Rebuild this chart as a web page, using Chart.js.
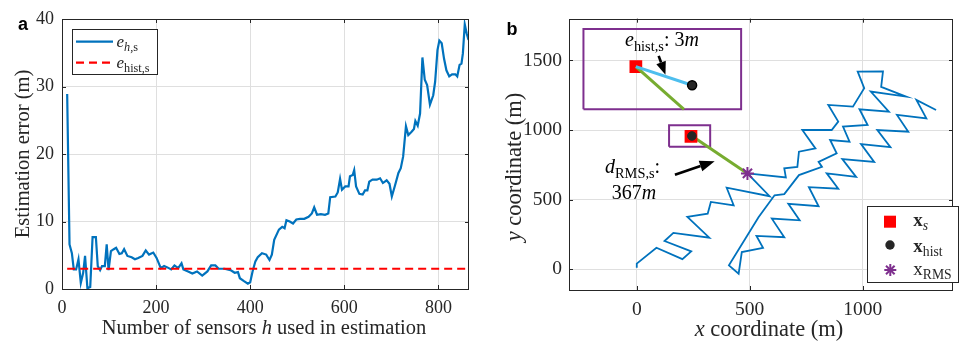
<!DOCTYPE html>
<html lang="en">
<head>
<meta charset="UTF-8">
<title>Estimation error and sensor positions</title>
<script src="https://cdn.jsdelivr.net/npm/chart.js"></script>
<style>
  body { margin: 0; background: #fff; }
  .fig { position: relative; width: 962px; height: 342px; overflow: hidden;
         font-family: 'Liberation Serif', 'DejaVu Serif', serif; color: #262626; }
  .fig canvas { position: absolute; top: 0; }
  #chartA { left: 0; }
  #chartB { left: 480px; }
  #over { position: absolute; left: 0; top: 0; }
  .t { position: absolute; white-space: nowrap; line-height: 1; }
  .t sub { font-size: 0.72em; vertical-align: -0.32em; line-height: 0; }
  .tag { font-family: 'Liberation Sans', Arial, sans-serif; font-weight: bold; font-size: 18px; color: #000; }
  .xt { transform: translateX(-50%); }
  .yt { transform: translate(-50%, -50%) rotate(-90deg); }
  .ta { font-size: 20.5px; }
  .tb { font-size: 22.5px; }
  .lg { font-size: 17px; }
  .lgb { font-size: 19px; }
  .ann { font-size: 20px; color: #000; }
</style>
</head>
<body>
<div class="fig">
  <canvas id="chartA" width="480" height="342"></canvas>
  <canvas id="chartB" width="482" height="342"></canvas>

  <svg id="over" width="962" height="342">
    <!-- legend a -->
    <rect x="72.5" y="29.5" width="85" height="45" fill="#fff" stroke="#262626" stroke-width="1"/>
    <line x1="76" y1="41.7" x2="113" y2="41.7" stroke="#0072BD" stroke-width="2.2"/>
    <line x1="76" y1="62.7" x2="113" y2="62.7" stroke="#FF0000" stroke-width="2.2" stroke-dasharray="8 5"/>
    <!-- legend b -->
    <rect x="867.5" y="206.5" width="91" height="76" fill="#fff" stroke="#262626" stroke-width="1"/>
    <rect x="884" y="215.7" width="12" height="12" fill="#FF0000"/>
    <circle cx="890" cy="245" r="4.7" fill="#262626"/>
    <g stroke="#7E2F8E" stroke-width="2">
      <line x1="890.3" y1="264" x2="890.3" y2="276"/>
      <line x1="884.3" y1="270" x2="896.3" y2="270"/>
      <line x1="886" y1="265.7" x2="894.6" y2="274.3"/>
      <line x1="886" y1="274.3" x2="894.6" y2="265.7"/>
    </g>
  </svg>

  <div class="t tag" style="left:18px; top:14.8px;">a</div>
  <div class="t tag" style="left:506.5px; top:19.8px;">b</div>

  <div class="t xt ta" style="left:264px; top:317.1px;">Number of sensors <i>h</i> used in estimation</div>
  <div class="t yt ta" style="left:21.5px; top:154px;">Estimation error (m)</div>
  <div class="t xt tb" style="left:769px; top:317.9px;"><i>x</i> coordinate (m)</div>
  <div class="t yt tb" style="left:514px; top:167px;"><i>y</i> coordinate (m)</div>

  <div class="t lg" style="left:116.5px; top:32.5px;"><i>e</i><sub><i>h</i>,s</sub></div>
  <div class="t lg" style="left:116.5px; top:54.1px;"><i>e</i><sub>hist,s</sub></div>

  <div class="t lgb" style="left:913.3px; top:210.1px;"><b>x</b><sub><i>s</i></sub></div>
  <div class="t lgb" style="left:913.3px; top:235.8px;"><b>x</b><sub>hist</sub></div>
  <div class="t lgb" style="left:913.3px; top:259.1px;">x<sub>RMS</sub></div>

  <div class="t ann" style="left:625px; top:29.3px;"><i>e</i><sub>hist,s</sub>: 3<i>m</i></div>
  <div class="t ann" style="left:605px; top:156.3px;"><i>d</i><sub>RMS,s</sub>:</div>
  <div class="t ann" style="left:611.7px; top:182.3px;">367<i>m</i></div>
</div>

<script>
// ---- panel a: error vs number of sensors
var sensorCounts = [11,16,21,25,30,35,40,45,49,54,
  60,65,72,76,81,85,91,95,99,104,
  110,115,122,127,132,139,148,155,162,171,
  178,185,194,201,210,217,224,232,239,247,
  254,258,268,277,287,298,309,317,326,333,
  345,358,367,374,378,386,395,400,405,411,
  416,425,434,441,446,451,461,468,473,477,
  484,491,498,506,515,524,531,536,542,550,
  559,566,570,581,586,591,595,602,609,612,
  618,621,625,632,639,644,649,653,660,669,
  676,682,690,696,701,708,715,720,725,731,
  736,743,748,751,756,761,766,771,776,782,
  789,793,798,802,807,812,817,823,829,836,
  840,845,849,852,856,860,864];
var errorH = [28.9,6.6,5.3,2.9,2.9,4.4,0.9,2.4,4.9,0.1,
  0.3,7.7,7.7,3.4,2.8,3.4,3.4,6.6,2.8,5.6,
  5.9,6.1,5.2,5.3,5.9,4.9,4.7,4.4,4.6,4.9,
  5.7,5.1,5.4,4.6,3.1,3.4,3.2,2.9,3.5,3.1,
  3.8,2.9,2.6,2.3,2.6,2.0,2.6,3.5,3.5,3.0,
  3.0,2.8,2.4,2.5,1.6,1.2,0.8,1.0,2.6,4.1,
  4.7,5.3,5.1,4.3,5.1,7.3,8.8,9.2,9.0,10.2,
  10.0,9.7,10.3,10.4,10.4,10.7,11.2,12.1,11.0,11.1,
  11.0,11.2,13.6,13.7,14.3,16.3,14.7,15.2,15.2,16.7,
  16.9,17.6,15.2,14.1,14.0,14.6,14.6,15.9,16.2,16.2,
  16.4,15.7,16.1,15.6,13.7,15.4,17.2,17.9,19.6,24.1,
  22.8,23.3,23.7,24.9,24.2,26.0,34.3,31.0,30.2,27.3,
  28.7,30.7,35.4,36.8,36.4,34.1,32.4,31.5,31.8,31.8,
  31.5,33.2,33.4,34.9,39.2,37.9,36.9];
var histError = 3;
var histRange = [11, 865];
var xTicksA = [0, 200, 400, 600, 800];
var yTicksA = [0, 10, 20, 30, 40];

// ---- panel b: sensor track and estimated positions
var trackX = [0,0,87,202,241,123,162,321,224,314,328,429,398,588,
  490,660,653,711,718,791,733,863,892,848,957,1007,978,1090,1082,1192,
  1036,1116,986,1022,913,942,856,885,805,820,718,653,610,539,408,451,
  465,559,530,653,598,721,671,805,762,892,841,971,910,1051,993,1123,1065,1202,1152,1282,1238,1325];
var trackY = [10,40,154,72,128,202,260,226,375,399,483,459,585,524,
  688,659,724,735,844,868,1000,1000,1060,1180,1168,1301,1420,1421,1310,1240,
  1276,1132,1149,1036,1024,916,928,832,771,735,676,539,531,373,27,-33,
  123,153,239,229,363,351,470,452,589,578,688,663,791,771,899,877,1000,988,1108,1084,1216,1144];
var trueX = [240], trueY = [955];
var histX = [244], histY = [957];
var rmsX = [490], rmsY = [688];
// zoomed inset
var insetBoxX = [-236, 462, 462, -236, -236];
var insetBoxY = [1149, 1149, 1726, 1726, 1149];
var smallBoxX = [143, 325, 325, 143, 143];
var smallBoxY = [880, 880, 1034, 1034, 880];
var insetTrue = [-4, 1456];
var insetHist = [245, 1322];
var insetRmsEnd = [209, 1149];
var xTicksB = [0, 500, 1000];
var yTicksB = [0, 500, 1000, 1500];

function pts(xs, ys) {
  return xs.map(function (v, i) { return { x: v, y: ys[i] }; });
}

var serif = "'Liberation Serif', 'DejaVu Serif', serif";
var gridStyle = { color: '#dfdfdf', lineWidth: 1, drawTicks: false };

// box around the axes with inward tick marks
var framePlugin = {
  id: 'frame',
  afterDatasetsDraw: function (chart) {
    var ctx = chart.ctx, a = chart.chartArea, sx = chart.scales.x, sy = chart.scales.y;
    ctx.save();
    ctx.strokeStyle = '#262626';
    ctx.lineWidth = 1;
    ctx.strokeRect(Math.round(a.left) + 0.5, Math.round(a.top) + 0.5,
      Math.round(a.right - a.left) - 1, Math.round(a.bottom - a.top));
    ctx.beginPath();
    sx.ticks.forEach(function (t) {
      var p = Math.round(sx.getPixelForValue(t.value)) + 0.5;
      ctx.moveTo(p, a.bottom); ctx.lineTo(p, a.bottom - 4);
      ctx.moveTo(p, a.top); ctx.lineTo(p, a.top + 4);
    });
    sy.ticks.forEach(function (t) {
      var p = Math.round(sy.getPixelForValue(t.value)) + 0.5;
      ctx.moveTo(a.left, p); ctx.lineTo(a.left + 4, p);
      ctx.moveTo(a.right, p); ctx.lineTo(a.right - 4, p);
    });
    ctx.stroke();
    ctx.restore();
  }
};

function axis(min, max, tickVals, fit, pad, size) {
  return {
    type: 'linear', min: min, max: max,
    afterBuildTicks: function (s) { s.ticks = tickVals.map(function (v) { return { value: v }; }); },
    afterFit: fit,
    grid: gridStyle,
    border: { display: false },
    ticks: { font: { family: serif, size: size }, color: '#262626', padding: pad, maxRotation: 0,
      callback: function (v) { return String(v); } }
  };
}

new Chart(document.getElementById('chartA'), {
  type: 'scatter',
  data: {
    datasets: [
      {
        data: pts(histRange, [histError, histError]),
        showLine: true, borderColor: '#FF0000', borderWidth: 2.2, borderDash: [8, 5],
        pointRadius: 0, order: 0
      },
      {
        data: pts(sensorCounts, errorH),
        showLine: true, borderColor: '#0072BD', borderWidth: 2.2,
        pointRadius: 0, order: 1
      }
    ]
  },
  options: {
    responsive: false, animation: false, events: [],
    layout: { padding: { left: 0, top: 19, right: 11, bottom: 0 } },
    plugins: { legend: { display: false }, tooltip: { enabled: false } },
    scales: {
      x: axis(0, 865, xTicksA, function (s) { s.height = 53; }, 8, 18),
      y: axis(0, 40, yTicksA, function (s) { s.width = 62; }, 8, 18)
    }
  },
  plugins: [framePlugin]
});

// black arrows pointing at the error segments (data units)
var arrowPlugin = {
  id: 'arrows',
  afterDatasetsDraw: function (chart) {
    var ctx = chart.ctx, sx = chart.scales.x, sy = chart.scales.y;
    var arrows = [[97, 1533, 127, 1397, 13, 10], [169, 678, 345, 776, 15, 11]];
    ctx.save();
    ctx.fillStyle = '#000';
    ctx.strokeStyle = '#000';
    ctx.lineWidth = 2.6;
    arrows.forEach(function (ar) {
      var x0 = sx.getPixelForValue(ar[0]), y0 = sy.getPixelForValue(ar[1]);
      var x1 = sx.getPixelForValue(ar[2]), y1 = sy.getPixelForValue(ar[3]);
      var ang = Math.atan2(y1 - y0, x1 - x0), len = ar[4], w = ar[5] / 2;
      var bx = x1 - len * Math.cos(ang), by = y1 - len * Math.sin(ang);
      ctx.beginPath();
      ctx.moveTo(x0, y0); ctx.lineTo(bx, by);
      ctx.stroke();
      ctx.beginPath();
      ctx.moveTo(x1, y1);
      ctx.lineTo(bx + w * Math.sin(ang), by - w * Math.cos(ang));
      ctx.lineTo(bx - w * Math.sin(ang), by + w * Math.cos(ang));
      ctx.closePath();
      ctx.fill();
    });
    ctx.restore();
  }
};

function lineSet(d, color, width, order) {
  return { data: d, showLine: true, borderColor: color, borderWidth: width,
    pointRadius: 0, fill: false, order: order };
}

new Chart(document.getElementById('chartB'), {
  type: 'scatter',
  data: {
    datasets: [
      { data: pts(histX, histY), pointStyle: 'circle', pointRadius: 4.3,
        backgroundColor: '#262626', borderColor: '#262626', borderWidth: 1, order: 0 },
      { data: [{ x: insetHist[0], y: insetHist[1] }], pointStyle: 'circle', pointRadius: 4.5,
        backgroundColor: '#262626', borderColor: '#000', borderWidth: 1.5, order: 0 },
      { data: pts(rmsX, rmsY), pointStyle: 'star', pointRadius: 6.5,
        borderColor: '#7E2F8E', borderWidth: 2, order: 1 },
      lineSet([{ x: insetTrue[0], y: insetTrue[1] }, { x: insetHist[0], y: insetHist[1] }], '#4DBEEE', 3, 2),
      lineSet([{ x: insetTrue[0], y: insetTrue[1] }, { x: insetRmsEnd[0], y: insetRmsEnd[1] }], '#77AC30', 3, 2),
      { data: pts(trueX, trueY).concat([{ x: insetTrue[0], y: insetTrue[1] }]),
        pointStyle: 'rect', pointRadius: 9, backgroundColor: '#FF0000', borderColor: '#FF0000',
        borderWidth: 0, order: 3 },
      lineSet([{ x: histX[0], y: histY[0] }, { x: rmsX[0], y: rmsY[0] }], '#77AC30', 3, 4),
      lineSet(pts(insetBoxX, insetBoxY), '#7E2F8E', 2, 5),
      lineSet(pts(smallBoxX, smallBoxY), '#7E2F8E', 2, 5),
      lineSet(pts(trackX, trackY), '#0072BD', 1.8, 6)
    ]
  },
  options: {
    responsive: false, animation: false, events: [],
    layout: { padding: { left: 0, top: 18, right: 0, bottom: 0 } },
    plugins: { legend: { display: false }, tooltip: { enabled: false } },
    scales: {
      x: axis(-300, 1400, xTicksB, function (s) { s.height = 52; }, 8, 19.5),
      y: axis(-150, 1800, yTicksB, function (s) { s.width = 89; }, 7, 19.5)
    }
  },
  plugins: [framePlugin, arrowPlugin]
});
</script>
</body>
</html>
